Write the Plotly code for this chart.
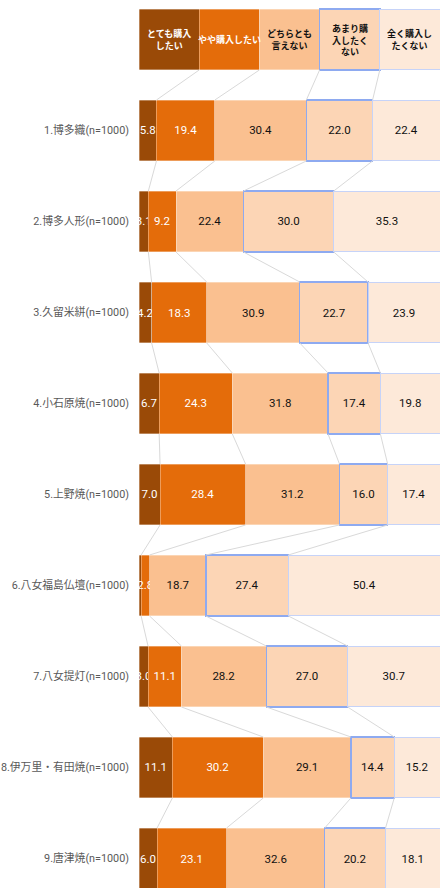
import plotly.graph_objects as go

# Survey: purchase intention for Fukuoka / Saga traditional crafts (n=1000 each)
CATEGORIES = [
    "1.博多織(n=1000)",
    "2.博多人形(n=1000)",
    "3.久留米絣(n=1000)",
    "4.小石原焼(n=1000)",
    "5.上野焼(n=1000)",
    "6.八女福島仏壇(n=1000)",
    "7.八女提灯(n=1000)",
    "8.伊万里・有田焼(n=1000)",
    "9.唐津焼(n=1000)",
]

SERIES = ["とても購入<br>したい", "やや購入したい", "どちらとも<br>言えない",
          "あまり購<br>入したく<br>ない", "全く購入し<br>たくない"]

very_want = [5.8, 3.1, 4.2, 6.7, 7.0, 0.7, 3.0, 11.1, 6.0]
somewhat_want = [19.4, 9.2, 18.3, 24.3, 28.4, 2.8, 11.1, 30.2, 23.1]
neutral = [30.4, 22.4, 30.9, 31.8, 31.2, 18.7, 28.2, 29.1, 32.6]
not_really = [22.0, 30.0, 22.7, 17.4, 16.0, 27.4, 27.0, 14.4, 20.2]
not_at_all = [22.4, 35.3, 23.9, 19.8, 17.4, 50.4, 30.7, 15.2, 18.1]

VALUES = [very_want, somewhat_want, neutral, not_really, not_at_all]

COLORS = ["#9a4a07", "#e46c0a", "#fac090", "#fcd5b5", "#fde9d9"]
TEXT_COLORS = ["#ffffff", "#ffffff", "#111111", "#111111", "#111111"]
EDGE = [("rgba(255,255,255,0.55)", 0.6), ("rgba(255,255,255,0.55)", 0.6),
        ("rgba(255,255,255,0.55)", 0.6), ("#8eaaf0", 1.4), ("#c6d3f8", 1.0)]

NUM_FONT = "Roboto, Noto Sans CJK JP, sans-serif"
JP_FONT = "Noto Sans CJK JP, sans-serif"

BAR_W = 0.67
HEADER_Y = -1
rows = list(range(len(CATEGORIES)))
header_share = 100 / len(SERIES)

fig = go.Figure()

# connector lines between the segment boundaries of consecutive bars
cums = [[header_share * k for k in range(1, len(SERIES))]]
for r in rows:
    acc, c = 0.0, []
    for s in range(len(SERIES) - 1):
        acc += VALUES[s][r]
        c.append(acc)
    cums.append(c)
ys = [HEADER_Y] + rows
lx, ly = [], []
for i in range(len(cums) - 1):
    for k in range(len(SERIES) - 1):
        lx += [cums[i][k], cums[i + 1][k], None]
        ly += [ys[i] + BAR_W / 2, ys[i + 1] - BAR_W / 2, None]
fig.add_trace(go.Scatter(x=lx, y=ly, mode="lines",
                         line=dict(color="#d9d9d9", width=1),
                         hoverinfo="skip", showlegend=False))

# stacked 100% bars; the first row is a header strip acting as the legend
for s, name in enumerate(SERIES):
    vals = VALUES[s]
    texts = [""] + [f"{v:.1f}" if v >= 1 else "" for v in vals]
    fig.add_trace(go.Bar(
        x=[header_share] + vals,
        y=[HEADER_Y] + rows,
        orientation="h",
        width=BAR_W,
        name=name.replace("<br>", ""),
        marker=dict(color=COLORS[s], line=dict(color=EDGE[s][0], width=EDGE[s][1])),
        text=texts,
        textposition="inside",
        insidetextanchor="middle",
        textangle=0,
        textfont=dict(color=TEXT_COLORS[s], size=11.5, family=NUM_FONT),
        showlegend=False,
    ))
    fig.add_annotation(
        x=header_share * (s + 0.5), y=HEADER_Y, xref="x", yref="y",
        text=f"<b>{name}</b>", showarrow=False,
        font=dict(family=JP_FONT, size=9, color=TEXT_COLORS[s]),
        align="center",
    )

ymin = HEADER_Y - 39.5 / 91
ymax = HEADER_Y + (888 - 39.5) / 91

fig.update_layout(
    barmode="stack",
    width=440, height=888,
    margin=dict(l=139, r=0, t=0, b=0),
    paper_bgcolor="white", plot_bgcolor="white",
    uniformtext=dict(minsize=11.5, mode="show"),
    xaxis=dict(range=[0, 100], visible=False, fixedrange=True),
    yaxis=dict(range=[ymax, ymin], tickvals=rows, ticktext=CATEGORIES,
               showgrid=False, zeroline=False, showline=False, ticks="",
               ticklabelstandoff=9, automargin=False,
               tickfont=dict(family="Roboto, Noto Sans CJK JP, sans-serif",
                             size=10.8, color="#595959")),
)

fig.write_html("out.html")
